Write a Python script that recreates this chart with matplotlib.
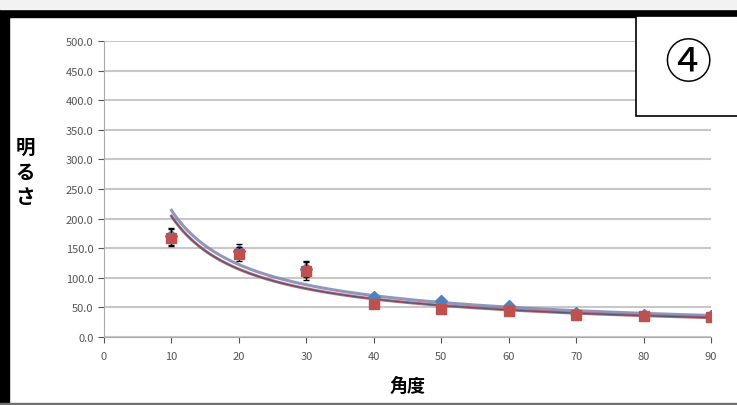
import numpy as np
import matplotlib.pyplot as plt
from matplotlib.patches import Rectangle

plt.rcParams['font.family'] = ['Noto Sans CJK JP', 'DejaVu Sans']

angle = [10, 20, 30, 40, 50, 60, 70, 80, 90]
blue_vals = [170, 145, 115, 67, 60, 52, 40, 37, 35]
blue_err = [14, 12, 14, 4, 3, 3, 2, 2, 2]
red_vals = [168, 140, 112, 55, 48, 44, 38, 36, 34]
red_err = [15, 12, 15, 4, 3, 3, 2, 2, 2]

fig = plt.figure(figsize=(7.37, 4.06), dpi=100)

# frame of the screenshot
fig.patches.append(Rectangle((0, 0), 9 / 737, 396 / 406, transform=fig.transFigure,
                             color='black', zorder=0))
fig.patches.append(Rectangle((0, 388 / 406), 1, 8 / 406, transform=fig.transFigure,
                             color='black', zorder=0))
fig.patches.append(Rectangle((0, 396 / 406), 1, 10 / 406, transform=fig.transFigure,
                             color='#f2f2f2', zorder=0))
fig.patches.append(Rectangle((0, 0), 1, 2 / 406, transform=fig.transFigure,
                             color='#707070', zorder=0))

ax = fig.add_axes([104 / 737, 68 / 406, 607 / 737, 296 / 406])

xs = np.linspace(10, 90, 200)
for vals, col in [(blue_vals, '#7b86b0'), (red_vals, '#b8566a')]:
    b, a = np.polyfit(np.log(angle), np.log(vals), 1)
    ax.plot(xs, np.exp(a) * xs ** b, color=col, lw=2.2, alpha=0.85, zorder=3)
b, a = np.polyfit(np.log(angle), np.log(red_vals), 1)
ax.plot(xs, np.exp(a) * xs ** b, color='#5a5870', lw=1.0, zorder=4)

ax.errorbar(angle, blue_vals, yerr=blue_err, fmt='D', color='#4f81bd', ms=6.5,
            ecolor='black', elinewidth=1, capsize=2, zorder=5)
ax.errorbar(angle, red_vals, yerr=red_err, fmt='s', color='#c0504d', ms=7.5,
            ecolor='black', elinewidth=1, capsize=2, zorder=6)

ax.set_xlim(0, 90)
ax.set_ylim(0, 500)
ax.set_xticks(range(0, 100, 10))
ax.set_yticks(range(0, 550, 50))
ax.set_yticklabels([f"{v:.1f}" for v in range(0, 550, 50)])
ax.tick_params(labelsize=8, colors='#555555', length=4, direction='out')
ax.tick_params(axis='x', pad=6)
ax.grid(axis='y', color='#c8c8c8', lw=1.5)
ax.set_axisbelow(True)
for s in ['top', 'right']:
    ax.spines[s].set_visible(False)
for s in ['left', 'bottom']:
    ax.spines[s].set_color('#aaaaaa')

fig.text(408 / 737, 20 / 406, '角度', fontsize=13, fontweight='bold', ha='center', va='center')
fig.text(25 / 737, 233 / 406, '明\nる\nさ', fontsize=14, fontweight='bold', ha='center',
         va='center', linespacing=1.35)

# number box
fig.patches.append(Rectangle((636 / 737, 289 / 406), 110 / 737, 100 / 406,
                             transform=fig.transFigure, facecolor='white',
                             edgecolor='black', lw=1.2, zorder=10))
fig.text(688 / 737, 341 / 406, '④', fontsize=34, ha='center', va='center', zorder=11,
         family=['DejaVu Serif', 'Noto Sans CJK JP'])

fig.savefig('out.png', dpi=100)
